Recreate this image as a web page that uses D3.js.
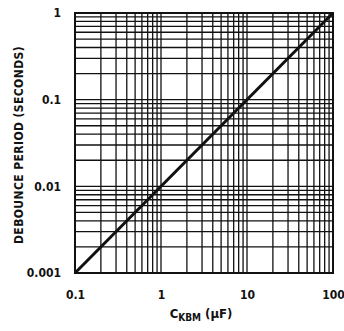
<!DOCTYPE html>
<html><head><meta charset="utf-8">
<script src="https://cdn.jsdelivr.net/npm/d3@7"></script>
<style>body{margin:0;background:#fff}svg{display:block}text{font-family:"DejaVu Sans Condensed","Liberation Sans",sans-serif;font-weight:bold;fill:#111}</style>
</head><body>
<script>
const xDomain = [0.1, 100];
const yDomain = [0.001, 1];
const xTickValues = [0.1, 1, 10, 100];
const xTickLabels = ["0.1", "1", "10", "100"];
const yTickValues = [0.001, 0.01, 0.1, 1];
const yTickLabels = ["0.001", "0.01", "0.1", "1"];
const seriesX = [0.1, 100];
const seriesY = [0.001, 1];

const W = 344, H = 331;
const m = {left: 75, right: 11, top: 13, bottom: 58};
const svg = d3.select("body").append("svg").attr("width", W).attr("height", H);
const x = d3.scaleLog().domain(xDomain).range([m.left, W - m.right]);
const y = d3.scaleLog().domain(yDomain).range([H - m.bottom, m.top]);

function minors(dom){const out=[];for(let d=dom[0];d<dom[1]*0.999;d*=10){for(let k=2;k<=9;k++){out.push(d*k);}}return out;}
const g = svg.append("g");
g.selectAll(".vx").data(minors(xDomain).concat(xTickValues)).join("line")
 .attr("x1", d=>x(d)).attr("x2", d=>x(d)).attr("y1", y(yDomain[0])).attr("y2", y(yDomain[1]))
 .attr("stroke", "#111").attr("stroke-width", 1.3);
g.selectAll(".hy").data(minors(yDomain).concat(yTickValues)).join("line")
 .attr("y1", d=>y(d)).attr("y2", d=>y(d)).attr("x1", x(xDomain[0])).attr("x2", x(xDomain[1]))
 .attr("stroke", "#111").attr("stroke-width", 1.3);
svg.append("rect").attr("x", x(xDomain[0])).attr("y", y(yDomain[1]))
 .attr("width", x(xDomain[1]) - x(xDomain[0])).attr("height", y(yDomain[0]) - y(yDomain[1]))
 .attr("fill", "none").attr("stroke", "#111").attr("stroke-width", 2);

const line = d3.line().x((d,i)=>x(seriesX[i])).y((d,i)=>y(seriesY[i]));
svg.append("path").datum(seriesX).attr("d", line).attr("fill","none").attr("stroke","#111").attr("stroke-width",3);

const xAxis = svg.append("g").attr("transform", `translate(0,${H - m.bottom})`)
 .call(d3.axisBottom(x).tickValues(xTickValues).tickFormat((d,i)=>xTickLabels[i]).tickSize(0).tickPadding(17));
xAxis.select(".domain").remove();
xAxis.selectAll("text").style("font-size","12px").attr("fill","#111");
const yAxis = svg.append("g").attr("transform", `translate(${m.left},0)`)
 .call(d3.axisLeft(y).tickValues(yTickValues).tickFormat((d,i)=>yTickLabels[i]).tickSize(0).tickPadding(14));
yAxis.select(".domain").remove();
yAxis.selectAll("text").style("font-size","12px").attr("fill","#111");

const xt = svg.append("text").attr("x", 201).attr("y", 318).attr("text-anchor","middle").style("font-size","13px");
xt.append("tspan").text("C");
xt.append("tspan").attr("dy", 3).style("font-size","10px").text("KBM");
xt.append("tspan").attr("dy", -3).text(" (µF)");

svg.append("text").attr("transform", `translate(23,145) rotate(-90)`)
 .attr("text-anchor","middle").style("font-size","12px").style("letter-spacing","0.4px")
 .text("DEBOUNCE PERIOD (SECONDS)");
</script>
</body></html>
